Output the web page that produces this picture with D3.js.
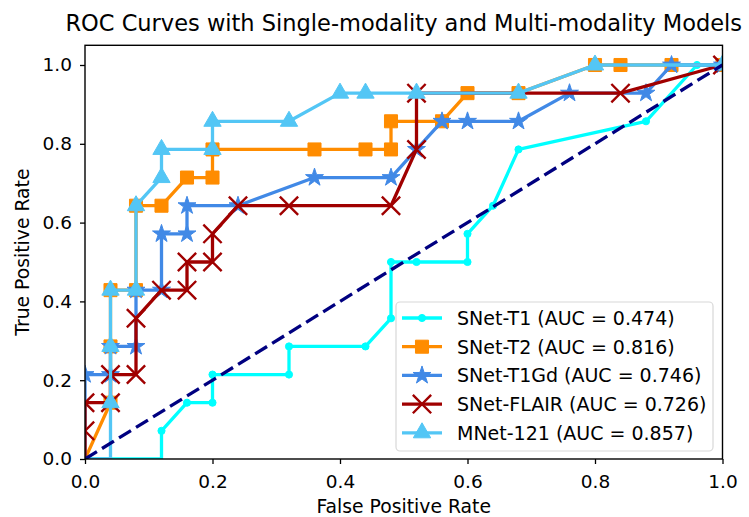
<!DOCTYPE html>
<html><head><meta charset="utf-8">
<script src="https://cdn.jsdelivr.net/npm/d3@7"></script>
<style>body{margin:0;background:#fff}svg{display:block}text{font-family:"DejaVu Sans",sans-serif}</style>
</head><body><svg id="c" width="749" height="517"></svg>
<script>
const P = 14, N = 25;
// ROC points: [FPR count /25, TPR count /14]
const t1Fpr = [0,3,3,4,5,5,8,8,11,12,12,13,15,15,16,17,22,24,25];
const t1Tpr = [0,0,1,2,2,3,3,4,4,5,7,7,7,8,9,11,12,14,14];
const t2Fpr = [0,1,1,1,2,2,3,4,5,5,9,11,12,12,14,15,17,20,21,23,25];
const t2Tpr = [0,2,4,6,6,9,9,10,10,11,11,11,11,12,12,13,13,14,14,14,14];
const gdFpr = [0,0,1,1,2,2,3,3,4,4,6,9,12,13,14,15,17,19,22,23,25];
const gdTpr = [0,3,3,4,4,6,6,8,8,9,9,10,10,11,12,12,12,13,13,14,14];
const flFpr = [0,0,0,1,1,2,2,3,4,4,5,5,6,8,12,13,13,21,25];
const flTpr = [0,1,2,2,3,3,5,6,6,7,7,8,9,9,9,11,13,13,14];
const mnFpr = [0,1,1,1,1,2,2,3,3,5,5,8,10,11,13,17,20,25];
const mnTpr = [0,0,2,4,6,6,9,10,11,11,12,12,13,13,13,13,14,14];
const labels = ["SNet-T1 (AUC = 0.474)","SNet-T2 (AUC = 0.816)","SNet-T1Gd (AUC = 0.746)","SNet-FLAIR (AUC = 0.726)","MNet-121 (AUC = 0.857)"];
const colors = ["#00ffff","#ff8c00","#4189e6","#a00000","#53c6f5"];
const xTicks = [0,0.2,0.4,0.6,0.8,1.0];
const yTicks = [0,0.2,0.4,0.6,0.8,1.0];

const series = [[t1Fpr,t1Tpr],[t2Fpr,t2Tpr],[gdFpr,gdTpr],[flFpr,flTpr],[mnFpr,mnTpr]]
  .map(([f,t]) => f.map((v,i)=>[v/N, t[i]/P]));
const symbols = [
  {type:d3.symbolCircle, size:40, fill:true},
  {type:d3.symbolSquare, size:170, fill:true},
  {type:d3.symbolStar, size:100, fill:true},
  {type:d3.symbolX, size:220, fill:false},
  {type:d3.symbolTriangle, size:130, fill:true}
];

const svg = d3.select("#c");
const L=85, R=722.5, T=45.3, B=459;
const x = d3.scaleLinear().domain([0,1]).range([L,R]);
const y = d3.scaleLinear().domain([0,1.05]).range([B,T]);

svg.append("defs").append("clipPath").attr("id","clip")
  .append("rect").attr("x",L).attr("y",T).attr("width",R-L).attr("height",B-T);

const plot = svg.append("g").attr("clip-path","url(#clip)");
const line = d3.line().x(d=>x(d[0])).y(d=>y(d[1]));

series.forEach((s,i)=>{
  const g = plot.append("g");
  g.append("path").datum(s).attr("d",line).attr("fill","none")
    .attr("stroke",colors[i]).attr("stroke-width",3.3).attr("stroke-linejoin","round");
  const sym = d3.symbol().type(symbols[i].type).size(symbols[i].size);
  g.selectAll("path.m").data(s.filter(d=>d[1]>0)).join("path").attr("class","m")
    .attr("transform",d=>`translate(${x(d[0])},${y(d[1])})`)
    .attr("d",sym)
    .attr("fill",symbols[i].fill?colors[i]:"none")
    .attr("stroke",colors[i]).attr("stroke-width",symbols[i].fill?1:2.4);
});
plot.append("path").datum([[0,0],[1,1]]).attr("d",line).attr("fill","none")
  .attr("stroke","#000080").attr("stroke-width",3.3).attr("stroke-dasharray","14,6");

// axes
const xa = svg.append("g").attr("transform",`translate(0,${B})`)
  .call(d3.axisBottom(x).tickValues(xTicks).tickFormat(d3.format(".1f")).tickSize(5).tickPadding(11));
const ya = svg.append("g").attr("transform",`translate(${L},0)`)
  .call(d3.axisLeft(y).tickValues(yTicks).tickFormat(d3.format(".1f")).tickSize(5).tickPadding(8));
[xa,ya].forEach(a=>{
  a.select(".domain").remove();
  a.selectAll("text").attr("font-size",18.5).attr("fill","#000").style("font-family","DejaVu Sans");
  a.selectAll("line").attr("stroke","#000").attr("stroke-width",1.3);
});
svg.append("rect").attr("x",L).attr("y",T).attr("width",R-L).attr("height",B-T)
  .attr("fill","none").attr("stroke","#000").attr("stroke-width",1.4);

svg.append("text").attr("x",(L+R)/2).attr("y",31).attr("text-anchor","middle")
  .attr("font-size",22.5).text("ROC Curves with Single-modality and Multi-modality Models");
svg.append("text").attr("x",(L+R)/2).attr("y",512.5).attr("text-anchor","middle")
  .attr("font-size",18.8).text("False Positive Rate");
svg.append("text").attr("transform",`translate(29,${(T+B)/2}) rotate(-90)`).attr("text-anchor","middle")
  .attr("font-size",18.8).text("True Positive Rate");

// legend
const lg = svg.append("g");
lg.append("rect").attr("x",396).attr("y",302).attr("width",317).attr("height",149).attr("rx",4)
  .attr("fill","#fff").attr("fill-opacity",0.85).attr("stroke","#d8d8d8").attr("stroke-width",1.2);
labels.forEach((lab,i)=>{
  const yy = 318 + i*28.7;
  lg.append("line").attr("x1",402).attr("x2",442).attr("y1",yy).attr("y2",yy)
    .attr("stroke",colors[i]).attr("stroke-width",3.3);
  lg.append("path").attr("transform",`translate(422,${yy})`)
    .attr("d",d3.symbol().type(symbols[i].type).size(symbols[i].size)())
    .attr("fill",symbols[i].fill?colors[i]:"none").attr("stroke",colors[i])
    .attr("stroke-width",symbols[i].fill?1:2.4);
  lg.append("text").attr("x",457).attr("y",yy).attr("dy","0.36em").attr("font-size",19).text(lab);
});
</script></body></html>
